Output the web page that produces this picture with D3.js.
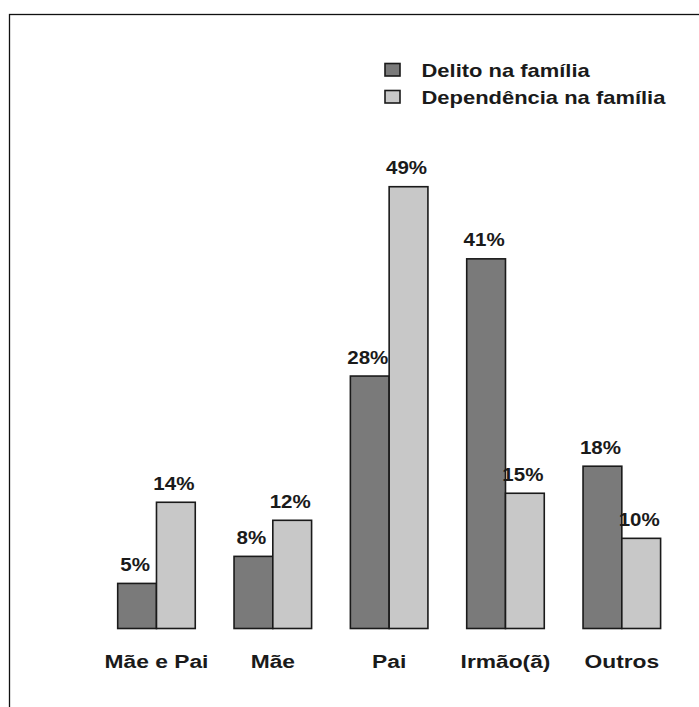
<!DOCTYPE html>
<html>
<head>
<meta charset="utf-8">
<script src="https://cdn.jsdelivr.net/npm/d3@7"></script>
<style>
  html, body { margin: 0; padding: 0; background: #fff; }
  svg { display: block; }
  text { font-family: "Liberation Sans", Arial, sans-serif; font-weight: bold; fill: #1a1a1a; }
</style>
</head>
<body>
<script>
const categories = ["Mãe e Pai", "Mãe", "Pai", "Irmão(ã)", "Outros"];
const seriesNames = ["Delito na família", "Dependência na família"];
const delito = [5, 8, 28, 41, 18];
const dependencia = [14, 12, 49, 15, 10];
const colors = ["#7a7a7a", "#c8c8c8"];

const W = 699, H = 707;
const svg = d3.select("body").append("svg").attr("width", W).attr("height", H);

// frame (cut at the right and bottom edges)
svg.append("rect").attr("x", 9.5).attr("y", 14.5).attr("width", 720).attr("height", 720)
  .attr("fill", "none").attr("stroke", "#111").attr("stroke-width", 1.3);

const x0 = d3.scaleBand().domain(categories).range([117.7, 660.6]).paddingInner(1/3).paddingOuter(0);
const x1 = d3.scaleBand().domain(seriesNames).range([0, x0.bandwidth()]);
const y = d3.scaleLinear().domain([0, 50]).range([628.5, 628.5 - 50 * 9.016]);

const data = categories.map((c, i) => ({cat: c, vals: [delito[i], dependencia[i]]}));

const g = svg.append("g");
const groups = g.selectAll("g.grp").data(data).join("g")
  .attr("transform", d => `translate(${x0(d.cat)},0)`);

groups.selectAll("rect").data(d => d.vals.map((v, j) => ({s: seriesNames[j], v, j}))).join("rect")
  .attr("x", d => x1(d.s))
  .attr("y", d => y(d.v))
  .attr("width", x1.bandwidth())
  .attr("height", d => y(0) - y(d.v))
  .attr("fill", d => colors[d.j])
  .attr("stroke", "#1a1a1a")
  .attr("stroke-width", 1.6);

// value labels
groups.selectAll("text.val").data(d => d.vals.map((v, j) => ({s: seriesNames[j], v, j}))).join("text")
  .attr("class", "val")
  .attr("transform", d => `translate(${x1(d.s) + x1.bandwidth() / 2 - 2},${y(d.v) - 12.5}) scale(1.14,1)`)
  .attr("text-anchor", "middle")
  .attr("font-size", 18)
  .text(d => d.v + "%");

// category labels
svg.append("g").selectAll("text").data(categories).join("text")
  .attr("transform", d => `translate(${x0(d) + x0.bandwidth() / 2},667.5) scale(1.2,1)`)
  .attr("text-anchor", "middle")
  .attr("font-size", 19)
  .text(d => d);

// legend
const leg = svg.append("g");
const legItems = leg.selectAll("g").data(seriesNames).join("g")
  .attr("transform", (d, i) => `translate(0,${i * 27})`);
legItems.append("rect")
  .attr("x", 385).attr("y", 63.5).attr("width", 15).attr("height", 12.5)
  .attr("fill", (d, i) => colors[i]).attr("stroke", "#1a1a1a").attr("stroke-width", 1.6);
legItems.append("text")
  .attr("transform", "translate(421.5,76.5) scale(1.22,1)")
  .attr("font-size", 18)
  .text(d => d);
</script>
</body>
</html>
